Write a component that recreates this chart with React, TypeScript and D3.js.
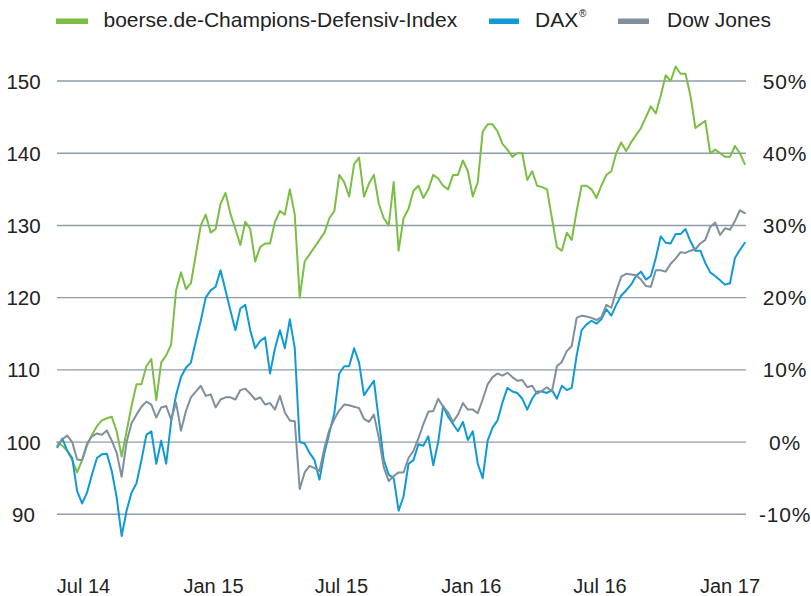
import React from "react";
import * as d3 from "d3";

// Weekly observations (Sundays) from 25 May 2014 to 22 Jan 2017
const startDate = new Date(2014, 4, 25);
const endDate = new Date(2017, 0, 23);
const dates: Date[] = d3.timeWeek.range(startDate, endDate);

const seriesNames = ["boerse.de-Champions-Defensiv-Index", "DAX", "Dow Jones"];

const championsValues = [
  100, 99.5, 98.8, 97.5, 95.8, 97.5, 99.5, 101, 102.2, 103,
  103.3, 103.5, 101.5, 98, 101.5, 105, 108, 108, 110.5, 111.5,
  105.8, 111, 112, 113.5, 121, 123.5, 121.2, 122, 126, 130,
  131.5, 129, 129.5, 133, 134.5, 131.6, 129.5, 127.3, 130.5, 129.5,
  125, 127, 127.5, 127.5, 130.5, 132, 131.5, 135, 131.5, 120,
  125, 126, 127, 128, 129, 131, 132, 137, 136, 134,
  138.5, 139.4, 134, 135.8, 137, 133, 131, 130, 136, 126.5,
  131, 132.3, 134.8, 135.5, 133.8, 135, 137, 136.5, 135.5, 135,
  137, 137, 139, 137.5, 134, 136, 143, 144, 144, 143,
  141.3, 140.5, 139.5, 140, 140, 136.3, 137.5, 135.5, 135.3, 135,
  131, 127, 126.5, 129, 128, 132, 135.5, 135.5, 135, 133.8,
  135.5, 137, 137.5, 140, 141.5, 140.3, 141.5, 142.5, 143.5, 145,
  146.5, 145.5, 148, 150.8, 150, 152, 151, 151, 148, 143.5,
  144, 144.5, 140, 140.5, 140, 139.5, 139.5, 141, 140, 138.5,
];

const daxValues = [
  99.3, 100.5, 98.8, 97.8, 93.2, 91.5, 93, 95.5, 97.8, 98.3,
  98.4, 96, 92.3, 87, 90.5, 93, 94.3, 97.5, 101, 101.5,
  97, 100.2, 97, 102.8, 106.5, 109, 110.3, 111, 114, 116.8,
  120, 121, 121.5, 123.8, 121, 118.2, 115.5, 118.5, 119, 115.5,
  113, 114, 114.5, 109.5, 113, 115.5, 113, 117, 113, 100,
  99.8, 98.5, 97.5, 94.8, 98.5, 101.3, 104, 109.5, 110.5, 110.5,
  113, 111, 106.5, 107.5, 108.5, 103, 97.5, 95.5, 95, 90.5,
  92.5, 97, 97.5, 99.7, 99.5, 100.8, 96.8, 100, 105, 103.5,
  102.5, 101.5, 102.8, 100.3, 101.5, 97, 95, 100.2, 102, 103,
  105.5, 107.5, 107, 106.8, 106, 104.5, 106, 107, 107, 106.8,
  107.2, 106, 107.8, 107.2, 107.5, 112, 115.5, 116.3, 116.8, 116.4,
  117, 118.4, 117.5, 119, 120.3, 121, 121.8, 123, 123.6, 122.5,
  123, 125.5, 128.5, 127.6, 127.5, 128.8, 128.8, 129.5, 127.8, 126.5,
  126.5, 124.8, 123.5, 123, 122.4, 121.8, 122, 125.5, 126.6, 127.6,
];

const dowValues = [
  99.5, 100.4, 100.9, 100, 97.6, 97.5, 99.8, 100.8, 101.2, 101,
  101.6, 100.2, 98.5, 95.2, 100, 102.6, 103.8, 104.9, 105.6, 105.2,
  103.4, 104.8, 105, 103.1, 105.5, 101.6, 104.3, 106.2, 107, 107.8,
  106.4, 106.6, 104.8, 105.9, 106.2, 106.2, 105.9, 107.2, 107.4, 106.7,
  105.9, 106.2, 105.2, 105.4, 104.5, 106.4, 104.1, 103, 102.9, 93.5,
  95.8, 96.7, 96.4, 96, 99.2, 101.7, 103.2, 104.4, 105.2, 105.1,
  104.9, 104.7, 103.2, 102.8, 103.8, 100.6, 96.5, 94.6, 95.3, 95.8,
  95.8, 97.8, 98.8, 100.5, 102.5, 104.2, 104.3, 106, 104.9, 104.1,
  102.8, 103.8, 105.4, 104.5, 104.5, 104, 105.9, 108, 109, 109.5,
  109.2, 109.6, 109, 108.5, 108.6, 107.6, 107.8, 106.7, 107.1, 107.6,
  107, 110.5, 111.1, 112.6, 113.3, 117.2, 117.5, 117.4, 117.2, 116.9,
  117.3, 119, 118.6, 120.9, 122.9, 123.3, 123.2, 123.1, 122.5, 121.6,
  121.5, 123.8, 123.8, 123.6, 124.7, 125.4, 126.3, 126.2, 126.5, 126.7,
  127.5, 128, 129.8, 130.4, 128.7, 129.6, 129.4, 130.6, 132.1, 131.7,
];

const leftTicks = [150, 140, 130, 120, 110, 100, 90];
const rightTickLabels = ["50%", "40%", "30%", "20%", "10%", "0%", "-10%"];
const xTickDates = [
  new Date(2014, 6, 1),
  new Date(2015, 0, 1),
  new Date(2015, 6, 1),
  new Date(2016, 0, 1),
  new Date(2016, 6, 1),
  new Date(2017, 0, 1),
];
const xTickLabels = ["Jul 14", "Jan 15", "Jul 15", "Jan 16", "Jul 16", "Jan 17"];

const COLORS = ["#7abf44", "#0f9ad6", "#7f8f9b"];
const FONT = "'Liberation Sans', Arial, Helvetica, sans-serif";

export default function App() {
  const width = 811;
  const height = 596;

  const x = d3
    .scaleTime()
    .domain([new Date(2014, 6, 1), new Date(2017, 0, 1)])
    .range([83.5, 730]);
  const y = d3.scaleLinear().domain([90, 150]).range([514.3, 81]);

  const gridX0 = 57;
  const gridX1 = 746;

  const series = [championsValues, daxValues, dowValues];
  const line = d3
    .line<number>()
    .x((_, i) => x(dates[i]))
    .y((v) => y(v));

  const legend = [
    { sx: 56, sw: 32, tx: 103.5 },
    { sx: 489, sw: 30, tx: 535 },
    { sx: 618, sw: 31, tx: 667 },
  ];

  return (
    <svg
      width={width}
      height={height}
      style={{ position: "absolute", left: 0, top: 0, background: "#fff" }}
      fontFamily={FONT}
    >
      {/* gridlines */}
      {leftTicks.map((t) => (
        <line
          key={"g" + t}
          x1={gridX0}
          x2={gridX1}
          y1={y(t)}
          y2={y(t)}
          stroke="#8d9ca8"
          strokeWidth={1.4}
        />
      ))}

      {/* left axis labels */}
      {leftTicks.map((t) => (
        <text
          key={"l" + t}
          x={23.5}
          y={y(t) + 7.5}
          textAnchor="middle"
          fontSize={20.5}
          fill="#222"
        >
          {t}
        </text>
      ))}

      {/* right axis labels */}
      {leftTicks.map((t, i) => (
        <text
          key={"r" + t}
          x={785}
          y={y(t) + 7.5}
          textAnchor="middle"
          fontSize={21}
          fill="#222"
          letterSpacing={0.8}
        >
          {rightTickLabels[i]}
        </text>
      ))}

      {/* x axis labels */}
      {xTickDates.map((d, i) => (
        <text
          key={"x" + i}
          x={x(d)}
          y={593}
          textAnchor="middle"
          fontSize={20}
          fill="#222"
        >
          {xTickLabels[i]}
        </text>
      ))}

      {/* series lines */}
      {series.map((vals, si) => (
        <path
          key={"s" + si}
          d={line(vals) || ""}
          fill="none"
          stroke={COLORS[si]}
          strokeWidth={2}
          strokeLinejoin="round"
          strokeLinecap="round"
        />
      ))}

      {/* legend */}
      {legend.map((l, i) => (
        <g key={"lg" + i}>
          <rect x={l.sx} y={18.5} width={l.sw} height={5.5} fill={COLORS[i]} />
          <text x={l.tx} y={27} fontSize={21} fill="#222">
            {seriesNames[i]}
          </text>
        </g>
      ))}
      <text x={579} y={17} fontSize={10} fill="#222">
        ®
      </text>
    </svg>
  );
}
